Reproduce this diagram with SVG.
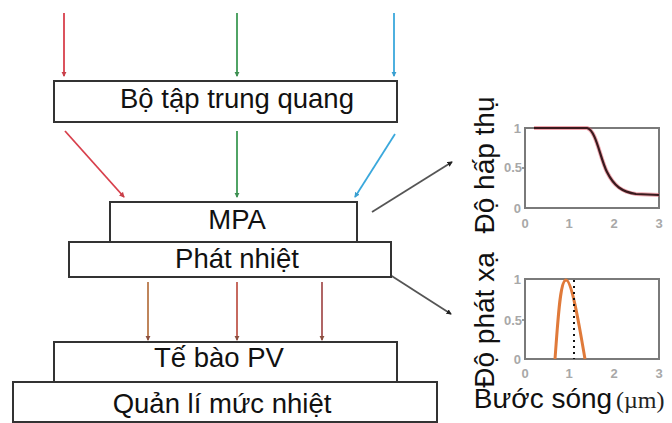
<svg xmlns="http://www.w3.org/2000/svg" width="672" height="423" viewBox="0 0 672 423">
<defs>
<style>
.box{fill:#fff;stroke:#333;stroke-width:2}
.lbl{font-family:"Liberation Sans",Arial,sans-serif;font-size:27.5px;fill:#111;text-anchor:middle}
.ax{font-family:"Liberation Sans",Arial,sans-serif;font-size:28px;fill:#111;text-anchor:middle}
.tk{font-family:"Liberation Sans",Arial,sans-serif;font-size:13px;font-weight:bold;fill:#a8a8a8}
.frame{fill:none;stroke:#7a7a7a;stroke-width:2}
.ln{fill:none;stroke-width:1.8}
</style>
<marker id="ahr" viewBox="0 0 6 6" refX="5" refY="3" markerWidth="3" markerHeight="3" orient="auto"><path d="M0,0 L6,3 L0,6 Z" fill="#c8404a"/></marker>
<marker id="ahg" viewBox="0 0 6 6" refX="5" refY="3" markerWidth="3" markerHeight="3" orient="auto"><path d="M0,0 L6,3 L0,6 Z" fill="#3e8f52"/></marker>
<marker id="ahb" viewBox="0 0 6 6" refX="5" refY="3" markerWidth="3" markerHeight="3" orient="auto"><path d="M0,0 L6,3 L0,6 Z" fill="#3a9fd0"/></marker>
<marker id="aho" viewBox="0 0 6 6" refX="5" refY="3" markerWidth="3" markerHeight="3" orient="auto"><path d="M0,0 L6,3 L0,6 Z" fill="#8a5040"/></marker>
<marker id="ahk" viewBox="0 0 6 6" refX="5" refY="3" markerWidth="3" markerHeight="3" orient="auto"><path d="M0,0 L6,3 L0,6 Z" fill="#222"/></marker>
</defs>
<rect width="672" height="423" fill="#fff"/>

<g id="connectors">
<line class="ln" x1="64" y1="13" x2="64" y2="76" stroke="#d8404c" marker-end="url(#ahr)"/>
<line class="ln" x1="237" y1="13" x2="237" y2="76" stroke="#3e9a55" marker-end="url(#ahg)"/>
<line class="ln" x1="394" y1="13" x2="394" y2="76" stroke="#3aa8dc" marker-end="url(#ahb)"/>
<line class="ln" x1="65" y1="131" x2="124" y2="197" stroke="#d8404c" marker-end="url(#ahr)"/>
<line class="ln" x1="237" y1="131" x2="237" y2="197" stroke="#3e9a55" marker-end="url(#ahg)"/>
<line class="ln" x1="395" y1="134" x2="355" y2="197" stroke="#3aa8dc" marker-end="url(#ahb)"/>
<line class="ln" x1="148" y1="282" x2="148" y2="340" stroke="#b8784a" marker-end="url(#aho)"/>
<line class="ln" x1="237" y1="282" x2="237" y2="340" stroke="#c05a4e" marker-end="url(#aho)"/>
<line class="ln" x1="322" y1="282" x2="322" y2="340" stroke="#a85555" marker-end="url(#aho)"/>
<line class="ln" x1="372" y1="212" x2="452" y2="162" stroke="#555" marker-end="url(#ahk)"/>
<line class="ln" x1="373" y1="264" x2="451" y2="314" stroke="#555" marker-end="url(#ahk)"/>
</g>

<g id="concentrator">
<rect class="box" x="54" y="81" width="343" height="41"/>
<text class="lbl" x="237" y="108">Bộ tập trung quang</text>
</g>
<g id="mpa">
<rect class="box" x="110" y="202" width="247" height="40"/>
<text class="lbl" x="237" y="229">MPA</text>
</g>
<g id="heat">
<rect class="box" x="69" y="242" width="322" height="35"/>
<text class="lbl" x="237" y="268">Phát nhiệt</text>
</g>
<g id="pv">
<rect class="box" x="54" y="342" width="343" height="40"/>
<text class="lbl" x="219" y="367">Tế bào PV</text>
</g>
<g id="thermal">
<rect class="box" x="13" y="382" width="424" height="40"/>
<text class="lbl" x="222" y="413">Quản lí mức nhiệt</text>
</g>

<g id="absorption-chart">
<rect class="frame" x="525" y="128" width="134" height="80"/>
<line x1="522" y1="168" x2="525" y2="168" stroke="#7a7a7a" stroke-width="1.5"/>
<path d="M534,128 L587,128 C596,130 600,158 607,172 C614,186 622,192 636,194 L659,195" fill="none" stroke="#e05060" stroke-width="4" opacity="0.5"/>
<path d="M534,128 L587,128 C596,130 600,158 607,172 C614,186 622,192 636,194 L659,195" fill="none" stroke="#3a1a1e" stroke-width="2.2"/>
<text class="tk" x="521" y="133" text-anchor="end">1</text>
<text class="tk" x="522" y="172" text-anchor="end">0.5</text>
<text class="tk" x="521" y="213" text-anchor="end">0</text>
<text class="tk" x="525" y="228" text-anchor="middle">0</text>
<text class="tk" x="569" y="228" text-anchor="middle">1</text>
<text class="tk" x="614" y="228" text-anchor="middle">2</text>
<text class="tk" x="659" y="228" text-anchor="middle">3</text>
<text class="ax" transform="translate(494,165) rotate(-90)">Độ hấp thụ</text>
</g>

<g id="emission-chart">
<rect class="frame" x="525" y="279" width="134" height="80"/>
<line x1="522" y1="320" x2="525" y2="320" stroke="#7a7a7a" stroke-width="1.5"/>
<path d="M555,359 C558,320 560,280 566,280 C572,280 580,330 585,359" fill="none" stroke="#e07a3a" stroke-width="3"/>
<line x1="574" y1="280" x2="574" y2="359" stroke="#111" stroke-width="2" stroke-dasharray="2,4"/>
<text class="tk" x="521" y="284" text-anchor="end">1</text>
<text class="tk" x="522" y="325" text-anchor="end">0.5</text>
<text class="tk" x="521" y="364" text-anchor="end">0</text>
<text class="tk" x="525" y="378" text-anchor="middle">0</text>
<text class="tk" x="569" y="378" text-anchor="middle">1</text>
<text class="tk" x="614" y="378" text-anchor="middle">2</text>
<text class="tk" x="659" y="378" text-anchor="middle">3</text>
<text class="ax" transform="translate(494,320) rotate(-90)">Độ phát xạ</text>
<text class="ax" x="543" y="408">Bước sóng</text>
<text x="616" y="408" font-family="'Liberation Serif','Times New Roman',serif" font-size="24" fill="#222">(µm)</text>
</g>
</svg>
